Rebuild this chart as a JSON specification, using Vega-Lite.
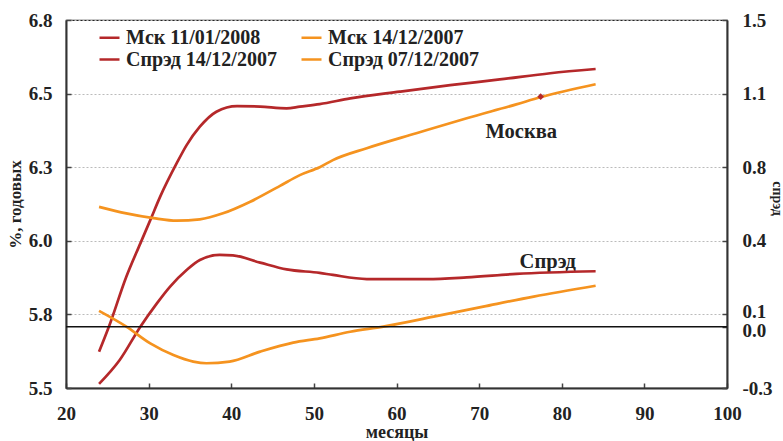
{
  "$schema": "https://vega.github.io/schema/vega-lite/v6.json",
  "width": 661,
  "height": 368,
  "autosize": {"type": "none"},
  "padding": {"left": 66, "top": 20, "right": 56, "bottom": 53},
  "background": "white",
  "config": {
    "font": "Liberation Serif",
    "view": {"stroke": "#222", "strokeWidth": 1.2},
    "axis": {
      "labelFont": "Liberation Serif", "labelFontWeight": "bold", "labelFontSize": 19, "labelColor": "#222",
      "titleFont": "Liberation Serif", "titleFontWeight": "bold", "titleFontSize": 17, "titleColor": "#222",
      "domainColor": "#333", "domainWidth": 2, "tickColor": "#444", "tickWidth": 1.5, "tickSize": -5,
      "labelFlush": false, "labelOverlap": false
    },
    "legend": {
      "orient": "none", "legendX": 32, "legendY": 6, "columns": 2, "padding": 0,
      "symbolType": "stroke", "symbolSize": 400, "symbolStrokeWidth": 2.5,
      "labelFont": "Liberation Serif", "labelFontWeight": "bold", "labelFontSize": 20, "labelColor": "#222",
      "labelOffset": 5, "columnPadding": 19, "rowPadding": -6, "labelLimit": 400
    }
  },
  "datasets": {
    "yields": [
      {"series": "Мск 11/01/2008", "x": 24.0, "y": 5.628},
      {"series": "Мск 11/01/2008", "x": 25.2, "y": 5.717},
      {"series": "Мск 11/01/2008", "x": 27.3, "y": 5.893},
      {"series": "Мск 11/01/2008", "x": 29.0, "y": 6.011},
      {"series": "Мск 11/01/2008", "x": 30.2, "y": 6.093},
      {"series": "Мск 11/01/2008", "x": 31.4, "y": 6.176},
      {"series": "Мск 11/01/2008", "x": 33.4, "y": 6.294},
      {"series": "Мск 11/01/2008", "x": 34.6, "y": 6.358},
      {"series": "Мск 11/01/2008", "x": 36.2, "y": 6.423},
      {"series": "Мск 11/01/2008", "x": 38.2, "y": 6.476},
      {"series": "Мск 11/01/2008", "x": 40.7, "y": 6.496},
      {"series": "Мск 11/01/2008", "x": 43.5, "y": 6.494},
      {"series": "Мск 11/01/2008", "x": 46.7, "y": 6.488},
      {"series": "Мск 11/01/2008", "x": 48.3, "y": 6.494},
      {"series": "Мск 11/01/2008", "x": 50.7, "y": 6.503},
      {"series": "Мск 11/01/2008", "x": 54.4, "y": 6.523},
      {"series": "Мск 11/01/2008", "x": 60.4, "y": 6.547},
      {"series": "Мск 11/01/2008", "x": 66.5, "y": 6.570},
      {"series": "Мск 11/01/2008", "x": 72.5, "y": 6.590},
      {"series": "Мск 11/01/2008", "x": 78.6, "y": 6.612},
      {"series": "Мск 11/01/2008", "x": 84.1, "y": 6.627},
      {"series": "Мск 14/12/2007", "x": 24.0, "y": 6.140},
      {"series": "Мск 14/12/2007", "x": 27.3, "y": 6.117},
      {"series": "Мск 14/12/2007", "x": 30.6, "y": 6.100},
      {"series": "Мск 14/12/2007", "x": 33.4, "y": 6.091},
      {"series": "Мск 14/12/2007", "x": 36.2, "y": 6.096},
      {"series": "Мск 14/12/2007", "x": 39.0, "y": 6.117},
      {"series": "Мск 14/12/2007", "x": 42.3, "y": 6.158},
      {"series": "Мск 14/12/2007", "x": 45.9, "y": 6.214},
      {"series": "Мск 14/12/2007", "x": 48.3, "y": 6.252},
      {"series": "Мск 14/12/2007", "x": 50.7, "y": 6.280},
      {"series": "Мск 14/12/2007", "x": 52.3, "y": 6.305},
      {"series": "Мск 14/12/2007", "x": 56.4, "y": 6.347},
      {"series": "Мск 14/12/2007", "x": 62.4, "y": 6.400},
      {"series": "Мск 14/12/2007", "x": 68.5, "y": 6.453},
      {"series": "Мск 14/12/2007", "x": 74.5, "y": 6.502},
      {"series": "Мск 14/12/2007", "x": 77.4, "y": 6.527},
      {"series": "Мск 14/12/2007", "x": 84.1, "y": 6.573}
    ],
    "spreads": [
      {"series": "Спрэд 14/12/2007", "x": 24.0, "y": -0.280},
      {"series": "Спрэд 14/12/2007", "x": 26.5, "y": -0.163},
      {"series": "Спрэд 14/12/2007", "x": 29.0, "y": 0.000},
      {"series": "Спрэд 14/12/2007", "x": 31.0, "y": 0.114},
      {"series": "Спрэд 14/12/2007", "x": 32.6, "y": 0.196},
      {"series": "Спрэд 14/12/2007", "x": 34.6, "y": 0.277},
      {"series": "Спрэд 14/12/2007", "x": 36.2, "y": 0.326},
      {"series": "Спрэд 14/12/2007", "x": 38.6, "y": 0.351},
      {"series": "Спрэд 14/12/2007", "x": 40.2, "y": 0.349},
      {"series": "Спрэд 14/12/2007", "x": 43.5, "y": 0.313},
      {"series": "Спрэд 14/12/2007", "x": 46.7, "y": 0.280},
      {"series": "Спрэд 14/12/2007", "x": 50.7, "y": 0.263},
      {"series": "Спрэд 14/12/2007", "x": 52.3, "y": 0.253},
      {"series": "Спрэд 14/12/2007", "x": 56.4, "y": 0.233},
      {"series": "Спрэд 14/12/2007", "x": 63.7, "y": 0.233},
      {"series": "Спрэд 14/12/2007", "x": 68.5, "y": 0.241},
      {"series": "Спрэд 14/12/2007", "x": 74.5, "y": 0.258},
      {"series": "Спрэд 14/12/2007", "x": 84.1, "y": 0.271},
      {"series": "Спрэд 07/12/2007", "x": 24.0, "y": 0.077},
      {"series": "Спрэд 07/12/2007", "x": 27.3, "y": 0.000},
      {"series": "Спрэд 07/12/2007", "x": 30.2, "y": -0.082},
      {"series": "Спрэд 07/12/2007", "x": 33.0, "y": -0.139},
      {"series": "Спрэд 07/12/2007", "x": 35.4, "y": -0.171},
      {"series": "Спрэд 07/12/2007", "x": 37.0, "y": -0.179},
      {"series": "Спрэд 07/12/2007", "x": 39.8, "y": -0.171},
      {"series": "Спрэд 07/12/2007", "x": 43.5, "y": -0.122},
      {"series": "Спрэд 07/12/2007", "x": 47.5, "y": -0.078},
      {"series": "Спрэд 07/12/2007", "x": 50.7, "y": -0.057},
      {"series": "Спрэд 07/12/2007", "x": 54.4, "y": -0.025},
      {"series": "Спрэд 07/12/2007", "x": 58.4, "y": 0.000},
      {"series": "Спрэд 07/12/2007", "x": 64.5, "y": 0.049},
      {"series": "Спрэд 07/12/2007", "x": 70.5, "y": 0.098},
      {"series": "Спрэд 07/12/2007", "x": 76.6, "y": 0.147},
      {"series": "Спрэд 07/12/2007", "x": 84.1, "y": 0.200}
    ],
    "labels": [
      {"label": "Москва", "x": 75.1, "y": 6.405},
      {"label": "Спрэд", "x": 78.3, "y": 5.944}
    ],
    "marker": [
      {"x": 77.45, "y": 6.529}
    ]
  },
  "layer": [
    {
      "encoding": {
        "x": {"field": "x", "type": "quantitative", "scale": {"domain": [20, 100], "nice": false, "zero": false},
              "axis": {"values": [20, 30, 40, 50, 60, 70, 80, 90, 100], "title": "месяцы", "labelPadding": 21, "grid": false,
                       "titleFontSize": 18, "titleBaseline": "alphabetic", "titleY": 49}},
        "y": {"field": "y", "type": "quantitative", "scale": {"domain": [5.5, 6.8], "nice": false, "zero": false},
              "axis": {"orient": "left", "values": [5.5, 5.76, 6.02, 6.28, 6.54, 6.8], "format": ".1f", "grid": true,
                       "gridDash": [2, 2], "gridColor": "#bbbbbb", "gridWidth": 1, "title": "%, годовых", "labelPadding": 19, "titlePadding": 4}}
      },
      "layer": [
        {
          "data": {"name": "yields"},
          "mark": {"type": "line", "strokeWidth": 2.7, "interpolate": "monotone"},
          "encoding": {
            "color": {"field": "series", "type": "nominal", "title": null,
                      "scale": {"domain": ["Мск 11/01/2008", "Спрэд 14/12/2007", "Мск 14/12/2007", "Спрэд 07/12/2007"],
                                "range": ["#b5282a", "#b5282a", "#f5931f", "#f5931f"]}}
          }
        },
        {
          "data": {"name": "labels"},
          "mark": {"type": "text", "font": "Liberation Serif", "fontWeight": "bold", "fontSize": 20.5, "color": "#222", "align": "center", "baseline": "middle"},
          "encoding": {
            "text": {"field": "label"}
          }
        },
        {
          "data": {"name": "marker"},
          "mark": {"type": "point", "shape": "diamond", "filled": true, "size": 45, "color": "#b5282a", "opacity": 1},
          "encoding": {}
        }
      ]
    },
    {
      "encoding": {
        "y": {"field": "y", "type": "quantitative", "scale": {"domain": [-0.3, 1.5], "nice": false, "zero": false},
              "axis": {"orient": "right", "values": [-0.3, 0, 0.06, 0.42, 0.78, 1.14, 1.5],
                       "labelExpr": "replace(format(datum.value, '.1f'), '\u2212', '-')", "grid": false,
                       "labelOffset": {"condition": [{"test": "datum.value === 0", "value": 4}, {"test": "abs(datum.value - 0.06) < 0.001", "value": -3}], "value": 0},
                       "labelPadding": 20,
                       "title": "спрэд", "titleAngle": 90, "titleFontSize": 14, "titleAlign": "center", "titleBaseline": "middle",
                       "titleX": 49, "titleY": 178}}
      },
      "layer": [
        {
          "data": {"name": "spreads"},
          "mark": {"type": "line", "strokeWidth": 2.7, "interpolate": "monotone"},
          "encoding": {
            "x": {"field": "x", "type": "quantitative", "scale": {"domain": [20, 100], "nice": false, "zero": false},
                  "axis": {"values": [20, 30, 40, 50, 60, 70, 80, 90, 100], "title": "месяцы", "labelPadding": 21, "grid": false,
                           "titleFontSize": 18, "titleBaseline": "alphabetic", "titleY": 49}},
            "color": {"field": "series", "type": "nominal", "title": null,
                      "scale": {"domain": ["Мск 11/01/2008", "Спрэд 14/12/2007", "Мск 14/12/2007", "Спрэд 07/12/2007"],
                                "range": ["#b5282a", "#b5282a", "#f5931f", "#f5931f"]}}
          }
        },
        {
          "data": {"values": [{"v": 0}]},
          "mark": {"type": "rule", "color": "#111", "strokeWidth": 1.5},
          "encoding": {
            "y": {"field": "v", "type": "quantitative"}
          }
        }
      ]
    }
  ],
  "resolve": {"scale": {"y": "independent", "color": "shared"}}
}
